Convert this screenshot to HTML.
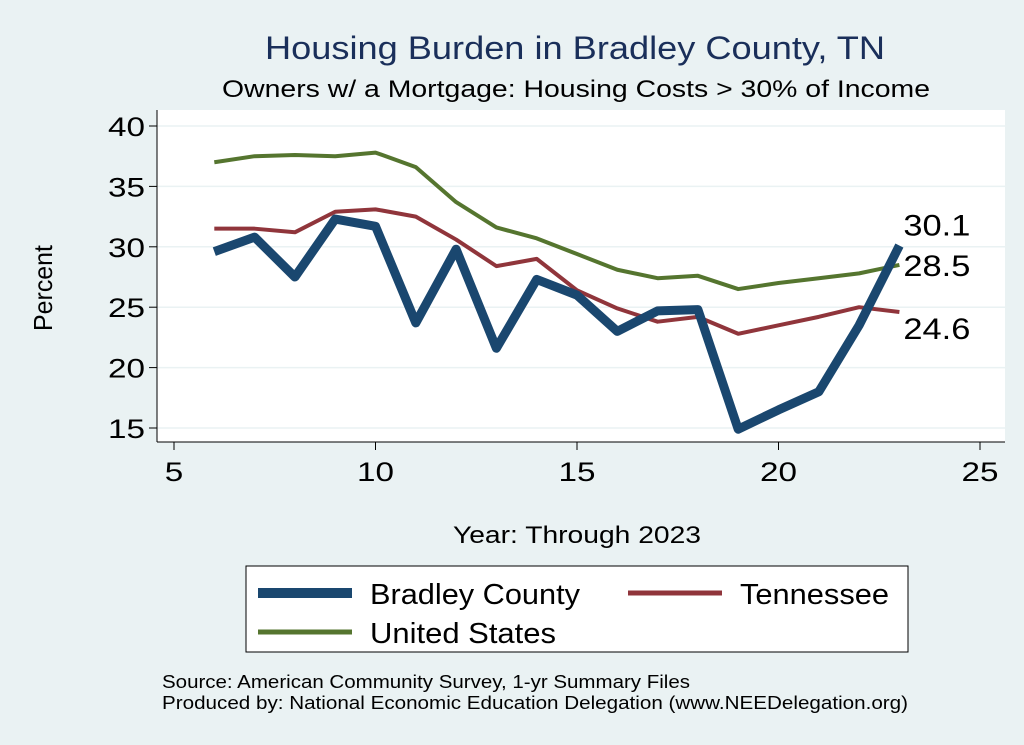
<!DOCTYPE html>
<html><head><meta charset="utf-8"><style>
body{margin:0;background:#eaf2f3;font-family:"Liberation Sans",sans-serif;}
svg{display:block}
</style></head><body>
<svg id="chart" width="1024" height="745">
<rect x="0" y="0" width="1024" height="745" fill="#eaf2f3"/>
<text x="265" y="59" font-size="32" fill="#1a2f5a" textLength="620" lengthAdjust="spacingAndGlyphs">Housing Burden in Bradley County, TN</text>
<text x="222" y="97" font-size="24" fill="#000" textLength="708" lengthAdjust="spacingAndGlyphs">Owners w/ a Mortgage: Housing Costs &gt; 30% of Income</text>
<rect x="157" y="110" width="848" height="332" fill="#fff"/>
<g id="grid"></g><g id="axes"></g><g id="series"></g><g id="labels"></g>
<text x="52" y="288" font-size="26" text-anchor="middle" textLength="86" lengthAdjust="spacingAndGlyphs" transform="rotate(-90 52 288)">Percent</text>
<text x="453" y="543" font-size="24" textLength="248" lengthAdjust="spacingAndGlyphs">Year: Through 2023</text>
<g>
<rect x="246" y="566" width="662" height="86" fill="#fff" stroke="#000" stroke-width="1"/>
<line x1="258" y1="593" x2="352" y2="593" stroke="#1a476f" stroke-width="10"/>
<text x="370" y="604" font-size="29" textLength="210" lengthAdjust="spacingAndGlyphs">Bradley County</text>
<line x1="628" y1="593" x2="722" y2="593" stroke="#90353b" stroke-width="5"/>
<text x="740" y="604" font-size="29" textLength="149" lengthAdjust="spacingAndGlyphs">Tennessee</text>
<line x1="258" y1="632" x2="352" y2="632" stroke="#55752f" stroke-width="5"/>
<text x="370" y="643" font-size="29" textLength="186" lengthAdjust="spacingAndGlyphs">United States</text>
</g>
<text x="162" y="688" font-size="18" textLength="528" lengthAdjust="spacingAndGlyphs">Source: American Community Survey, 1-yr Summary Files</text>
<text x="162" y="709" font-size="18" textLength="746" lengthAdjust="spacingAndGlyphs">Produced by: National Economic Education Delegation (www.NEEDelegation.org)</text>
</svg>
<script>
const years=[6,7,8,9,10,11,12,13,14,15,16,17,18,19,20,21,22,23];
const bradley=[29.6,30.8,27.5,32.3,31.7,23.7,29.8,21.6,27.3,26.0,23.0,24.7,24.8,14.9,16.5,18.0,23.5,30.1];
const tennessee=[31.5,31.5,31.2,32.9,33.1,32.5,30.6,28.4,29.0,26.4,24.9,23.8,24.2,22.8,23.5,24.2,25.0,24.6];
const us=[37.0,37.5,37.6,37.5,37.8,36.6,33.7,31.6,30.7,29.4,28.1,27.4,27.6,26.5,27.0,27.4,27.8,28.5];
const yTicks=[15,20,25,30,35,40];
const xTicks=[5,10,15,20,25];
const NS="http://www.w3.org/2000/svg";
const X=v=>174+(v-5)*(980-174)/20;
const Y=v=>428-(v-15)*(428-126)/25;
function mk(parent,tag,attrs){const e=document.createElementNS(NS,tag);for(const k in attrs)e.setAttribute(k,attrs[k]);document.getElementById(parent).appendChild(e);return e;}
yTicks.forEach(t=>{
 const g=mk('grid','line',{x1:157,x2:1005,y1:Y(t),y2:Y(t),stroke:'#eaf2f3','stroke-width':1.5});
 
 
 const tk=mk('axes','line',{x1:149,x2:157,y1:Y(t),y2:Y(t),stroke:'#000'});
 
 
 const tx=mk('axes','text',{x:145,y:Y(t)+10,'font-size':27,'text-anchor':'end',textLength:37,lengthAdjust:'spacingAndGlyphs'});
 tx.textContent=t;
 
 
});
const ya=mk('axes','line',{x1:157,x2:157,y1:110,y2:442,stroke:'#000'});


const xa=mk('axes','line',{x1:157,x2:1005,y1:442,y2:442,stroke:'#000'});


xTicks.forEach(t=>{
 const tk=mk('axes','line',{x1:X(t),x2:X(t),y1:442,y2:450,stroke:'#000'});
 
 
 const tx=mk('axes','text',{x:X(t),y:481,'font-size':27,'text-anchor':'middle',textLength:String(t).length*18.5,lengthAdjust:'spacingAndGlyphs'});
 tx.textContent=t;
 
 
});
function line(vals,color,w,name){
 const p=mk('series','polyline',{points:vals.map((v,i)=>X(years[i])+','+Y(v)).join(' '),fill:'none',stroke:color,'stroke-width':w,'stroke-linejoin':'round'});
 
 
}
line(us,'#55752f',4,'line-united-states');
line(tennessee,'#90353b',4,'line-tennessee');
line(bradley,'#1a476f',9,'line-bradley-county');
const last=years.length-1;
[[bradley,-10,'label-bradley-last'],[us,11,'label-us-last'],[tennessee,27,'label-tennessee-last']].forEach(([s,dy,n])=>{
 const t=mk('labels','text',{x:X(years[last])+4,y:Y(s[last])+dy,'font-size':30,textLength:67,lengthAdjust:'spacingAndGlyphs'});
 t.textContent=s[last].toFixed(1);
 
 
});
</script>
</body></html>
